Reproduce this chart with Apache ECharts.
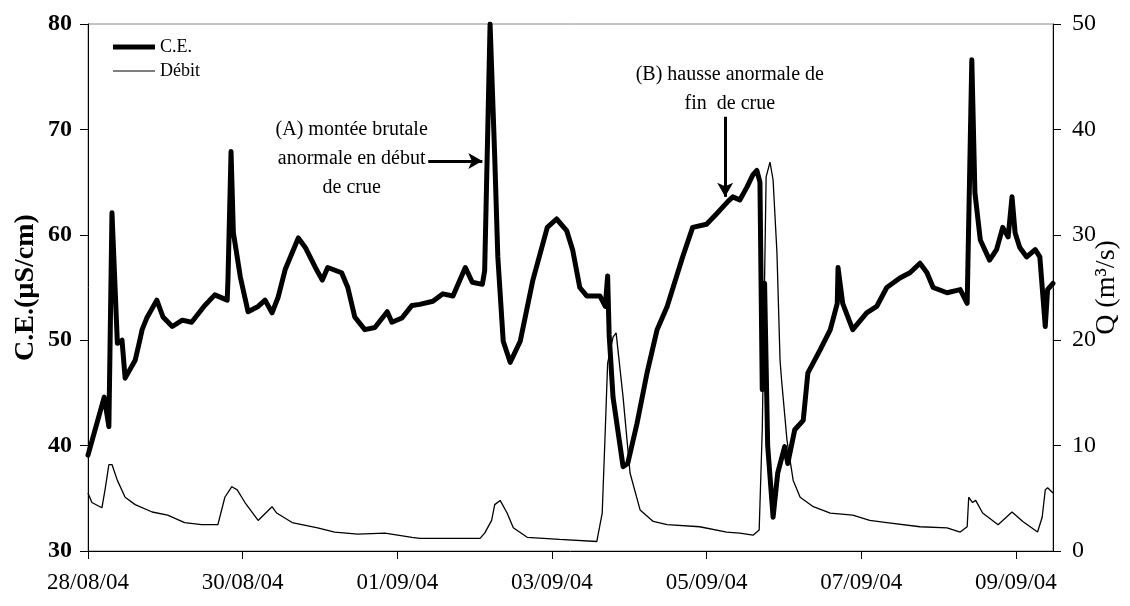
<!DOCTYPE html>
<html>
<head>
<meta charset="utf-8">
<script src="https://cdn.jsdelivr.net/npm/echarts@6/dist/echarts.min.js"></script>
<style>
html,body{margin:0;padding:0;background:#fff;overflow:hidden;}
#chart{width:1130px;height:606px;}
</style>
</head>
<body>
<div id="chart"></div>
<script>
// time in days since 28/08/04 00:00
const ceTime = [0.00,0.21,0.27,0.31,0.38,0.44,0.48,0.61,0.67,0.70,0.76,0.89,0.97,1.09,1.22,1.34,1.51,1.64,1.80,1.81,1.85,1.88,1.97,2.07,2.20,2.29,2.38,2.46,2.55,2.72,2.81,2.94,3.03,3.10,3.28,3.36,3.45,3.58,3.71,3.87,3.93,4.06,4.19,4.29,4.46,4.59,4.72,4.88,4.97,5.10,5.13,5.20,5.26,5.30,5.37,5.46,5.59,5.75,5.94,6.06,6.19,6.27,6.36,6.45,6.62,6.69,6.72,6.74,6.79,6.92,6.98,7.10,7.23,7.36,7.49,7.69,7.82,8.00,8.13,8.28,8.34,8.43,8.52,8.60,8.65,8.69,8.72,8.75,8.79,8.86,8.92,9.01,9.05,9.14,9.25,9.31,9.47,9.60,9.69,9.70,9.76,9.89,10.07,10.20,10.33,10.50,10.63,10.76,10.85,10.93,11.11,11.28,11.37,11.43,11.47,11.54,11.66,11.75,11.83,11.90,11.95,11.99,12.05,12.14,12.25,12.31,12.38,12.41,12.48];
const ceVal  = [39.1,44.6,41.8,62.1,49.7,50.0,46.4,48.1,50.0,51.0,52.1,53.8,52.2,51.3,51.9,51.7,53.3,54.3,53.8,55.7,67.9,60.2,56.0,52.7,53.2,53.8,52.6,54.1,56.7,59.7,58.8,56.9,55.7,56.9,56.4,55.0,52.2,51.0,51.2,52.7,51.7,52.1,53.3,53.4,53.7,54.4,54.2,56.9,55.5,55.3,56.6,80.0,67.4,57.9,49.9,47.9,49.9,55.6,60.7,61.5,60.4,58.5,55.0,54.2,54.2,53.2,56.1,50.5,44.6,38.0,38.3,42.1,46.9,51.0,53.2,57.9,60.7,61.0,62.0,63.2,63.6,63.3,64.5,65.7,66.1,65.0,45.3,55.4,40.0,33.2,37.4,39.9,38.3,41.5,42.4,46.9,49.1,51.0,53.5,56.9,53.5,51.0,52.6,53.2,55.0,55.9,56.4,57.3,56.4,55.0,54.5,54.8,53.5,76.6,64.0,59.5,57.6,58.6,60.7,59.8,63.6,60.2,58.8,57.9,58.6,57.9,51.3,54.8,55.4];

const qTime = [0.00,0.05,0.18,0.22,0.27,0.31,0.38,0.48,0.61,0.83,1.03,1.25,1.47,1.68,1.77,1.86,1.93,2.03,2.20,2.38,2.44,2.64,2.97,3.19,3.49,3.84,4.19,4.29,5.07,5.13,5.22,5.26,5.33,5.42,5.50,5.68,6.10,6.58,6.65,6.69,6.72,6.79,6.83,6.92,7.01,7.14,7.31,7.49,7.91,8.26,8.43,8.60,8.68,8.72,8.74,8.77,8.82,8.86,8.91,8.95,8.97,9.04,9.12,9.21,9.38,9.60,9.89,10.11,10.33,10.76,11.11,11.28,11.37,11.39,11.44,11.48,11.57,11.77,11.95,12.09,12.28,12.34,12.38,12.41,12.48];
const qVal  = [5.5,4.6,4.1,5.8,8.2,8.2,6.7,5.1,4.4,3.7,3.4,2.7,2.5,2.5,5.1,6.1,5.8,4.6,2.9,4.2,3.6,2.7,2.2,1.8,1.6,1.7,1.3,1.2,1.2,1.7,2.9,4.4,4.8,3.6,2.2,1.3,1.1,0.9,3.6,11.5,17.8,20.3,20.7,14.6,7.4,3.9,2.8,2.5,2.3,1.8,1.7,1.5,2.0,11.5,21.0,35.5,36.9,35.2,28.3,18.1,16.2,10.5,6.7,5.1,4.2,3.6,3.4,2.9,2.7,2.3,2.2,1.8,2.3,5.1,4.6,4.8,3.6,2.5,3.7,2.8,1.8,3.2,5.8,6.0,5.5];

const xTickLabels = ['28/08/04','30/08/04','01/09/04','03/09/04','05/09/04','07/09/04','09/09/04'];
const seriesNames = ['C.E.','Débit'];
const noteA = '(A) montée brutale\nanormale en début\nde crue';
const noteB = '(B) hausse anormale de\nfin  de crue';

const ceData = ceTime.map((t,i)=>[t,ceVal[i]]);
const qData = qTime.map((t,i)=>[t,qVal[i]]);

const FONT = 'Liberation Serif';
const chart = echarts.init(document.getElementById('chart'));
chart.setOption({
  animation:false,
  backgroundColor:'#fff',
  textStyle:{fontFamily:FONT,color:'#000'},
  grid:{left:88,right:77,top:24,bottom:55,show:true,borderColor:'#888',borderWidth:1,
    containLabel:false,outerBoundsMode:'none'},
  legend:{
    orient:'vertical',left:113,top:38,padding:0,itemWidth:42,itemHeight:18,itemGap:6,
    symbolKeepAspect:false,
    textStyle:{fontFamily:FONT,fontSize:18,color:'#000'},
    data:[
      {name:seriesNames[0],icon:'path://M0,0M42,18M0,6.5L42,6.5L42,11.5L0,11.5Z'},
      {name:seriesNames[1],icon:'path://M0,0M42,18M0,8.4L42,8.4L42,9.6L0,9.6Z'}
    ]
  },
  xAxis:{
    type:'value',min:0,max:12.48,interval:2,
    axisLine:{lineStyle:{color:'#000',width:1}},
    axisTick:{show:true,length:8,lineStyle:{color:'#000'}},
    splitLine:{show:false},
    axisLabel:{fontFamily:FONT,fontSize:23,color:'#000',margin:20,
      formatter:v=>xTickLabels[Math.round(v/2)]||''}
  },
  yAxis:[{
    type:'value',min:30,max:80,interval:10,position:'left',
    name:'C.E.(µS/cm)',nameLocation:'middle',nameGap:48,nameRotate:90,nameMoveOverlap:false,
    nameTextStyle:{fontFamily:FONT,fontSize:28,fontWeight:'bold',color:'#000'},
    axisLine:{show:true,lineStyle:{color:'#000'}},
    axisTick:{show:true,length:8,lineStyle:{color:'#000'}},
    splitLine:{show:false},
    axisLabel:{fontFamily:FONT,fontSize:24,fontWeight:'bold',color:'#000',margin:16}
  },{
    type:'value',min:0,max:50,interval:10,position:'right',
    name:'Q (m³/s)',nameLocation:'middle',nameGap:40,nameRotate:90,nameMoveOverlap:false,
    nameTextStyle:{fontFamily:FONT,fontSize:28,color:'#000'},
    axisLine:{show:true,lineStyle:{color:'#000'}},
    axisTick:{show:true,length:8,lineStyle:{color:'#000'}},
    splitLine:{show:false},
    axisLabel:{fontFamily:FONT,fontSize:24,color:'#000',margin:19}
  }],
  series:[{
    name:seriesNames[0],type:'line',yAxisIndex:0,data:ceData,symbol:'none',
    lineStyle:{color:'#000',width:5,join:'round',cap:'round'},itemStyle:{color:'#000'},
    z:3,
    markPoint:{
      symbol:'circle',symbolSize:0,silent:true,
      label:{show:true,fontFamily:FONT,fontSize:20,color:'#000',lineHeight:29,align:'center',verticalAlign:'middle'},
      data:[
        {coord:[3.41,67.2],label:{formatter:noteA}},
        {coord:[8.30,73.8],label:{formatter:noteB}}
      ]
    },
    markLine:{
      silent:true,symbol:['none','arrow'],symbolSize:[12,14],
      lineStyle:{color:'#000',width:3,type:'solid'},label:{show:false},
      data:[
        [{coord:[4.40,67.0]},{coord:[5.10,67.0]}],
        [{coord:[8.24,71.2]},{coord:[8.24,63.6]}]
      ]
    }
  },{
    name:seriesNames[1],type:'line',yAxisIndex:1,data:qData,symbol:'none',
    lineStyle:{color:'#000',width:1.3},itemStyle:{color:'#000'},z:2
  }]
});
</script>
</body>
</html>
